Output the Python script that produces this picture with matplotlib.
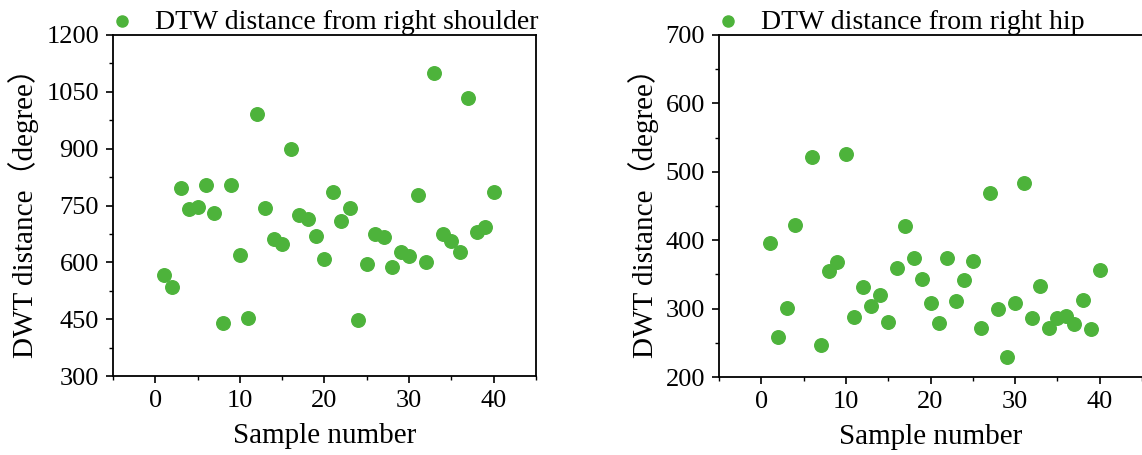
import numpy as np
import matplotlib
matplotlib.use("Agg")
import matplotlib.pyplot as plt
from matplotlib.ticker import MultipleLocator

plt.rcParams['font.family'] = ['Liberation Serif', 'Noto Sans CJK SC']
plt.rcParams['font.size'] = 19

# sample numbers 1..40
samples = np.arange(1, 41)

# DTW distance from right shoulder
shoulder = [566, 535, 796, 740, 746, 804, 730, 440, 804, 619,
            453, 992, 743, 662, 648, 899, 725, 714, 669, 609,
            786, 710, 743, 449, 596, 675, 667, 589, 627, 618,
            778, 601, 1100, 676, 656, 626, 1035, 681, 693, 785]

# DTW distance from right hip (sample 5 not shown in the figure)
hip = [396, 258, 301, 422, np.nan, 522, 247, 355, 368, 526,
       288, 332, 304, 320, 280, 359, 421, 374, 343, 308,
       279, 374, 311, 342, 369, 272, 469, 300, 229, 308,
       484, 286, 333, 272, 286, 289, 277, 313, 270, 356]

green = '#4DB33B'

fig = plt.figure(figsize=(11.42, 4.55), dpi=100)
ax1 = fig.add_axes([0.0989, 0.1736, 0.3704, 0.7495])
ax2 = fig.add_axes([0.6296, 0.1714, 0.3704, 0.7517])


def style(ax, ylim, ymajor, label):
    ax.scatter(samples, label[1], s=95, color=green, label=label[0], zorder=3)
    ax.set_xlim(-5, 45)
    ax.set_ylim(*ylim)
    ax.set_yticks(np.arange(ylim[0], ylim[1] + 1, ymajor))
    ax.xaxis.set_major_locator(MultipleLocator(10))
    ax.xaxis.set_minor_locator(MultipleLocator(5))
    ax.yaxis.set_minor_locator(MultipleLocator(ymajor / 2))
    ax.tick_params(which='major', direction='out', length=5, width=1.2, pad=5)
    ax.tick_params(which='minor', direction='out', length=3, width=1.0)
    for sp in ax.spines.values():
        sp.set_linewidth(1.3)
    ax.set_xlabel('Sample number', fontsize=21, labelpad=8)
    ax.set_ylabel('DWT distance（degree）', fontsize=21, labelpad=5)
    ax.legend(loc='lower left', bbox_to_anchor=(-0.025, 0.985), frameon=False,
              borderaxespad=0, handletextpad=0.7, borderpad=0.2,
              handlelength=1.0, markerscale=0.82, fontsize=20)


style(ax1, (300, 1200), 150, ('DTW distance from right shoulder', shoulder))
style(ax2, (200, 700), 100, ('DTW distance from right hip', hip))
ax2.spines['right'].set_visible(False)

fig.savefig('out.png', dpi=100)
